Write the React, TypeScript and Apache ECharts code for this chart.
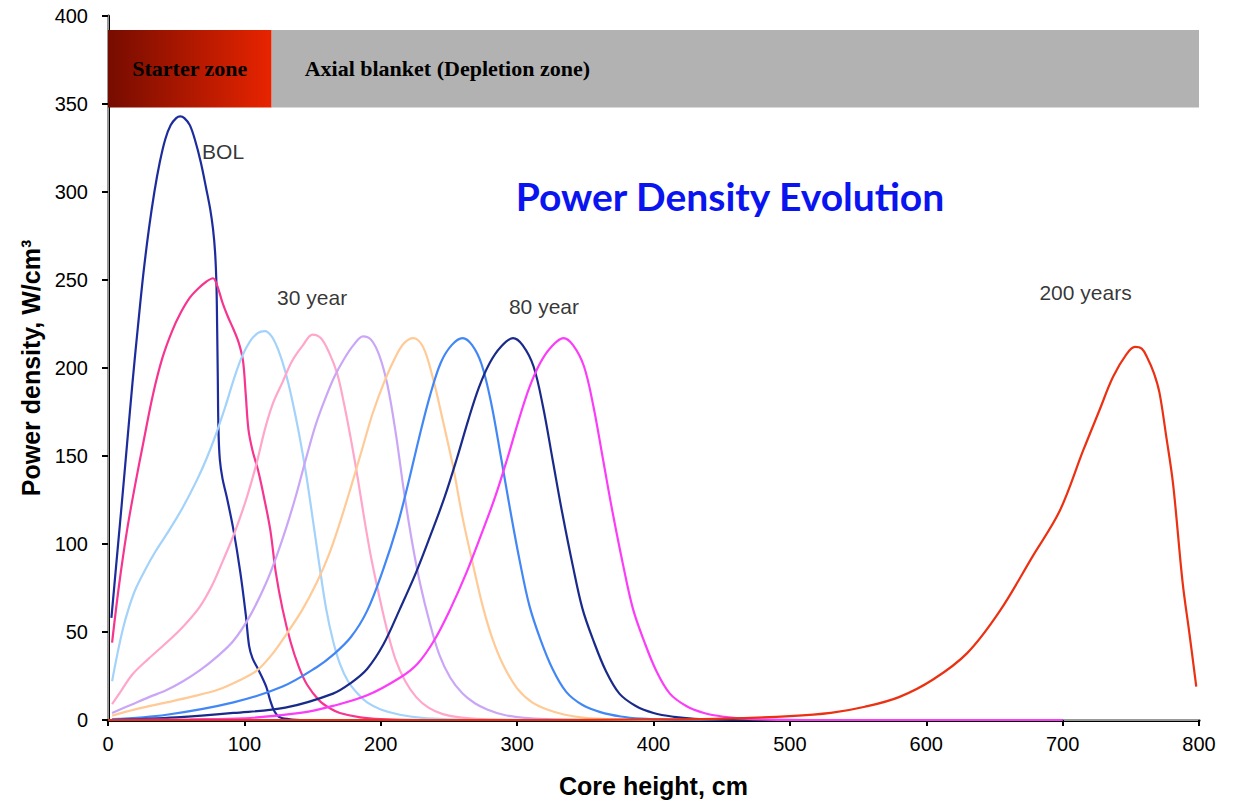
import React, { useEffect, useRef } from "react";
import * as echarts from "echarts";

// Core height (cm) vs power density (W/cm3)
const bol = [[2.5,58],[6,88],[10,122],[14,157],[18,192],[22,224],[26,254],[30,279],[34,300],[38,317],[42,330],[46,338],[50,342],[53,343],[56,342],[60,338],[64,329],[68,317],[72,302],[75,290],[77,279],[78.5,266],[79.5,248],[80,225],[80.5,195],[81,165],[82,148],[84,137],[87,127],[92,108],[97,84],[101,60],[103.5,42],[106,35],[110,29],[116,19],[119,11],[122,5],[126,1.5],[135,0.3],[150,0],[700,0]];
const yr10 = [[3,44],[8,76],[14,108],[20,134],[26,158],[33,185],[40,206],[47,221],[53,231],[60,240],[66,245],[72,249],[77,251],[80,247],[84,237],[88,229],[92,222],[96,214],[99,204],[101,185],[103,165],[106,153],[110,142],[114,128],[119,108],[123,84],[128,63],[134,44],[140,30],[146,20],[155,11],[163,6.5],[170,4],[185,1.5],[200,0.5],[230,0],[700,0]];
const yr20 = [[3,22],[7,38],[11,52],[15,63],[20,74],[27,85],[35,96],[45,108],[55,121],[65,136],[72,148],[79,162],[86,178],[92,193],[98,206],[104,215],[110,220],[115,221],[120,218],[125,210],[130,198],[135,182],[140,163],[145,141],[150,115],[155,88],[160,63],[165,45],[170,32],[176,22],[183,15],[190,10],[200,6],[214,3],[230,1.2],[250,0.4],[280,0],[700,0]];
const yr30 = [[3,9],[10,17],[18,26],[30,35],[43,44],[55,53],[67,64],[76,76],[84,90],[90,101],[95,111],[102,127],[109,146],[115,165],[121,180],[128,192],[135,204],[143,213],[150,219],[156,217],[162,209],[168,197],[173,180],[178,160],[183,138],[188,114],[193,92],[199,70],[205,50],[211,34],[218,22],[226,13],[235,7],[245,3.5],[258,1.5],[275,0.5],[300,0.1],[330,0],[700,0]];
const yr40 = [[3,4],[18,9],[30,13],[43,17],[55,22],[67,28],[80,36],[92,45],[104,59],[116,78],[124,94],[131,110],[138,128],[145,148],[152,167],[159,182],[166,195],[173,205],[180,213],[187,218],[193,216],[199,207],[205,190],[211,163],[217,130],[223,101],[229,77],[236,55],[243,37],[251,24],[260,15],[269,9.5],[278,6],[290,3],[305,1.2],[325,0.4],[350,0],[700,0]];
const yr50 = [[3,2.5],[20,6],[43,10],[60,13],[80,17],[95,22],[109,28],[120,37],[131,49],[142,62],[153,78],[162,94],[170,112],[178,132],[186,153],[194,174],[202,191],[210,205],[217,214],[224,217],[231,212],[238,195],[245,172],[253,144],[260,115],[268,87],[275,64],[282,46],[290,31],[300,18],[311,10],[322,6],[335,3],[350,1.2],[370,0.4],[400,0],[700,0]];
const yr60 = [[3,0.5],[43,3],[92,10],[128,19],[153,30],[165,37],[178,47],[190,62],[202,86],[212,110],[220,134],[228,160],[236,184],[244,203],[252,213],[260,217],[267,213],[274,202],[281,180],[288,150],[295,119],[302,90],[309,65],[317,46],[326,29],[336,16],[348,8.5],[361,4.5],[376,2],[391,0.8],[410,0.2],[440,0],[700,0]];
const yr80 = [[3,0],[50,1.5],[92,4],[130,7],[165,15],[178,21],[190,29],[202,43],[214,63],[226,84],[237,106],[247,127],[256,149],[264,170],[272,189],[280,203],[288,212],[297,217],[304,213],[312,201],[319,178],[326,148],[333,118],[341,87],[348,63],[356,45],[365,28],[375,15],[387,8],[400,4],[415,1.8],[430,0.7],[450,0.2],[480,0],[700,0]];
const yr100 = [[0,0],[60,0.4],[100,1],[141,4],[165,8],[190,14],[214,24],[227,32],[239,45],[251,63],[263,84],[274,106],[284,127],[293,149],[301,170],[309,189],[317,203],[325,212],[334,217],[341,213],[349,201],[356,178],[363,148],[370,118],[378,87],[385,63],[393,45],[402,28],[412,15],[424,8],[437,4],[452,1.8],[467,0.7],[485,0.2],[510,0],[700,0]];
const yr200 = [[0,0],[300,0],[400,0.3],[450,0.8],[500,2.2],[530,4],[555,7.5],[580,13],[605,23],[630,38],[654,62],[678,93],[698,119],[715,153],[727,176],[737,195],[747,208],[753,212],[758,211],[762,206],[767,197],[771,186],[776,161],[781,134],[788,78],[793,49],[798,19]];

const seriesNames = ["BOL", "10 year", "20 year", "30 year", "40 year", "50 year", "60 year", "80 year", "100 year", "200 years"];
const seriesData = [bol, yr10, yr20, yr30, yr40, yr50, yr60, yr80, yr100, yr200];
const seriesColors = ["#1c2c9c", "#f7358f", "#a3d2fb", "#ffa6ca", "#caa6f7", "#ffca96", "#4287f5", "#1a2a8a", "#fb3cf8", "#ec3012"];

// Zones (cm along core height, power density band)
const starterZone = [0, 120];
const blanketZone = [120, 800];
const zoneBand = [348, 392];

// Annotations [x, y, text]
const annotations = [[69, 323, "BOL"], [124, 240, "30 year"], [294, 235, "80 year"], [683, 243, "200 years"]];

const xTicks = { min: 0, max: 800, interval: 100 };
const yTicks = { min: 0, max: 400, interval: 50 };

export default function App() {
  const ref = useRef<HTMLDivElement>(null);
  useEffect(() => {
    document.body.style.margin = "0";
    const chart = echarts.init(ref.current!, null, { renderer: "svg" });
    const sans = "Liberation Sans";
    const lineSeries = seriesData.map((d, i) => ({
      name: seriesNames[i],
      type: "line",
      data: d,
      smooth: 0.35,
      showSymbol: false,
      symbol: "none",
      lineStyle: { color: seriesColors[i], width: 2.2 },
      z: 3,
    }));
    (lineSeries[0] as any).markArea = {
      silent: true,
      data: [
        [
          {
            xAxis: starterZone[0], yAxis: zoneBand[0],
            itemStyle: {
              color: new echarts.graphic.LinearGradient(0, 0, 1, 0, [
                { offset: 0, color: "#760c00" },
                { offset: 1, color: "#e82400" },
              ]),
            },
            label: { show: true, position: "inside", formatter: "Starter zone", fontFamily: "Liberation Serif", fontWeight: "bold", fontSize: 22, color: "#000" },
          },
          { xAxis: starterZone[1], yAxis: zoneBand[1] },
        ],
        [
          {
            xAxis: blanketZone[0], yAxis: zoneBand[0],
            itemStyle: { color: "#b2b2b2" },
            label: { show: true, position: "insideLeft", distance: 33, formatter: "Axial blanket (Depletion zone)", fontFamily: "Liberation Serif", fontWeight: "bold", fontSize: 22, color: "#000" },
          },
          { xAxis: blanketZone[1], yAxis: zoneBand[1] },
        ],
      ],
    };
    chart.setOption({
      animation: false,
      backgroundColor: "#fff",
      grid: { left: 108, right: 37, top: 16, bottom: 85, containLabel: false },
      xAxis: [
        {
          type: "value", min: xTicks.min, max: xTicks.max, interval: xTicks.interval,
          name: "Core height, cm", nameLocation: "middle", nameGap: 53,
          nameTextStyle: { fontFamily: sans, fontWeight: "bold", fontSize: 25, color: "#000" },
          axisLine: { show: true, onZero: false, lineStyle: { color: "#000", width: 3 } },
          axisTick: { show: true, length: 6, lineStyle: { color: "#000", width: 2 } },
          axisLabel: { fontFamily: sans, fontSize: 20, color: "#000", margin: 14 },
          splitLine: { show: false },
        },
        {
          type: "value", position: "top", min: xTicks.min, max: xTicks.max,
          axisLine: { show: true, lineStyle: { color: "#999", width: 2 } },
          axisTick: { show: false }, axisLabel: { show: false }, splitLine: { show: false },
        },
      ],
      yAxis: [
        {
          type: "value", min: yTicks.min, max: yTicks.max, interval: yTicks.interval,
          name: "Power density, W/cm³", nameLocation: "middle", nameGap: 62,
          nameTextStyle: { fontFamily: sans, fontWeight: "bold", fontSize: 25, color: "#000" },
          axisLine: { show: true, onZero: false, lineStyle: { color: "#000", width: 3 } },
          axisTick: { show: true, length: 6, lineStyle: { color: "#000", width: 2 } },
          axisLabel: { fontFamily: sans, fontSize: 20, color: "#000", margin: 20 },
          splitLine: { show: false },
        },
        {
          type: "value", position: "right", min: yTicks.min, max: yTicks.max,
          axisLine: { show: true, lineStyle: { color: "#999", width: 2 } },
          axisTick: { show: false }, axisLabel: { show: false }, splitLine: { show: false },
        },
      ],
      graphic: [
        {
          type: "text", x: 730, y: 196,
          style: { text: "Power Density Evolution", fill: "#0a14f0", font: "bold 39px Lato", align: "center", verticalAlign: "middle" },
        },
      ],
      series: [
        ...lineSeries,
        {
          type: "scatter",
          data: annotations,
          symbolSize: 0,
          silent: true,
          z: 5,
          label: {
            show: true, position: "right", distance: 0,
            formatter: (p: any) => p.value[2],
            fontFamily: sans, fontSize: 21, color: "#000",
          },
        },
      ],
    });
    return () => chart.dispose();
  }, []);
  return <div ref={ref} style={{ width: 1236, height: 805 }} />;
}
